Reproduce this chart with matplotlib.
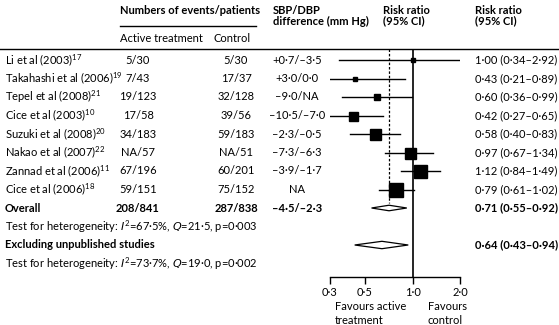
#!/usr/bin/env python3

import matplotlib.pyplot as plt
import matplotlib.transforms as mtransforms
from matplotlib.patches import Polygon

FAMILY = ["Liberation Sans Narrow", "Lato", "DejaVu Sans"]
FS = 8.0
plt.rcParams["font.family"] = FAMILY
plt.rcParams["font.size"] = FS
plt.rcParams["mathtext.fontset"] = "custom"
plt.rcParams["mathtext.rm"] = FAMILY[0]
plt.rcParams["mathtext.it"] = FAMILY[0] + ":italic"
plt.rcParams["mathtext.default"] = "regular"

studies = [
    "Li et al (2003)", "Takahashi et al (2006)", "Tepel et al (2008)",
    "Cice et al (2003)", "Suzuki et al (2008)", "Nakao et al (2007)",
    "Zannad et al (2006)", "Cice et al (2006)",
]
refs = ["17", "19", "21", "10", "20", "22", "11", "18"]
active = ["5/30", "7/43", "19/123", "17/58", "34/183", "NA/57", "67/196", "59/151"]
control = ["5/30", "17/37", "32/128", "39/56", "59/183", "NA/51", "60/201", "75/152"]
bp_diff = ["+0·7/–3·5", "+3·0/0·0", "–9·0/NA", "–10·5/–7·0", "–2·3/–0·5",
           "–7·3/–6·3", "–3·9/–1·7", "NA"]
rr = [1.00, 0.43, 0.60, 0.42, 0.58, 0.97, 1.12, 0.79]
rr_lo = [0.34, 0.21, 0.36, 0.27, 0.40, 0.67, 0.84, 0.61]
rr_hi = [2.92, 0.89, 0.99, 0.65, 0.83, 1.34, 1.49, 1.02]
weight = [4, 5, 6, 9, 11, 11, 13, 14]  # square side, px

overall_events = ["208/841", "287/838"]
overall_bp = "–4·5/–2·3"
overall_rr = [0.71, 0.55, 0.92]
excl_rr = [0.64, 0.43, 0.94]
het_all = "Test for heterogeneity: $\\mathit{I}^{2}$=67·5%, $\\mathit{Q}$=21·5, p=0·003"
het_excl = "Test for heterogeneity: $\\mathit{I}^{2}$=73·7%, $\\mathit{Q}$=19·0, p=0·002"

ticks = [0.3, 0.5, 1.0, 2.0]
tick_labels = ["0·3", "0·5", "1·0", "2·0"]


def fmt_rr(v, lo, hi):
    return f"{v:.2f} ({lo:.2f}–{hi:.2f})".replace(".", "·")


W, H = 559, 325
fig = plt.figure(figsize=(W / 100, H / 100), dpi=100)

# forest axes: x 330..460 px, y 49..277 px
top_px, bot_px, row0_px, step_px = 49, 277, 60, 18.5
ax = fig.add_axes([330 / W, 1 - bot_px / H, 130 / W, (bot_px - top_px) / H])
ax.set_xscale("log")
ax.set_xlim(0.3, 2.0)
ax.set_ylim((bot_px - row0_px) / step_px, (top_px - row0_px) / step_px)
for s in ["top", "right", "left"]:
    ax.spines[s].set_visible(False)
ax.spines["bottom"].set_linewidth(1.0)
ax.set_yticks([])
ax.set_xticks(ticks)
ax.set_xticklabels(tick_labels)
ax.xaxis.set_minor_locator(plt.NullLocator())
ax.tick_params(axis="x", length=5, width=1.0, pad=2, labelsize=FS)

n = len(studies)
ax.axvline(1.0, color="black", lw=1.2, zorder=1)
ax.plot([overall_rr[0]] * 2, [ax.get_ylim()[1], n - 0.25], ls=(0, (2, 1.5)),
        color="black", lw=0.9, zorder=1)

for i in range(n):
    ax.plot([rr_lo[i], rr_hi[i]], [i, i], color="black", lw=1.0, zorder=2)
    ax.plot(rr[i], i, marker="s", ms=weight[i] * 0.72, color="black",
            mec="black", zorder=3)


def diamond(v, lo, hi, y, h):
    pts = [(lo, y), (v, y - h), (hi, y), (v, y + h)]
    ax.add_patch(Polygon(pts, closed=True, fc="white", ec="black", lw=0.9, zorder=3))


diamond(*overall_rr, n, 0.15)
diamond(*excl_rr, n + 2, 0.2)

tr = mtransforms.blended_transform_factory(fig.transFigure, ax.transData)


def put(xpx, y, s, ha="left", bold=False):
    ax.text(xpx / W, y, s, transform=tr, ha=ha, va="center", clip_on=False,
            fontweight="bold" if bold else "normal")


def row_of(px):
    return (px - row0_px) / step_px


# header
put(120, row_of(10), "Numbers of events/patients", bold=True)
put(120, row_of(39), "Active treatment")
put(213, row_of(39), "Control")
put(273, row_of(10), "SBP/DBP", bold=True)
put(273, row_of(21), "difference (mm Hg)", bold=True)
put(383, row_of(10), "Risk ratio", bold=True)
put(383, row_of(21), "(95% CI)", bold=True)
put(475, row_of(10), "Risk ratio", bold=True)
put(475, row_of(21), "(95% CI)", bold=True)
ax.plot([120 / W, 256 / W], [row_of(26)] * 2, transform=tr, color="black",
        lw=1.0, clip_on=False)
ax.plot([0, 1], [row_of(48.5)] * 2, transform=tr, color="black",
        lw=1.0, clip_on=False)

for i in range(n):
    put(5, i, studies[i] + "$^{" + refs[i] + "}$")
    put(138, i, active[i], ha="center")
    put(236, i, control[i], ha="center")
    put(297, i, bp_diff[i], ha="center")
    put(475, i, fmt_rr(rr[i], rr_lo[i], rr_hi[i]))

put(5, n, "Overall", bold=True)
put(138, n, overall_events[0], ha="center", bold=True)
put(236, n, overall_events[1], ha="center", bold=True)
put(297, n, overall_bp, ha="center", bold=True)
put(475, n, fmt_rr(*overall_rr), bold=True)
put(5, n + 1, het_all)
put(5, n + 2, "Excluding unpublished studies", bold=True)
put(475, n + 2, fmt_rr(*excl_rr), bold=True)
put(5, n + 3, het_excl)

fig.text(335 / W, 1 - 307 / H, "Favours active", va="center")
fig.text(335 / W, 1 - 320 / H, "treatment", va="center")
fig.text(428 / W, 1 - 307 / H, "Favours", va="center")
fig.text(428 / W, 1 - 320 / H, "control", va="center")

fig.savefig("out.png", dpi=100)
